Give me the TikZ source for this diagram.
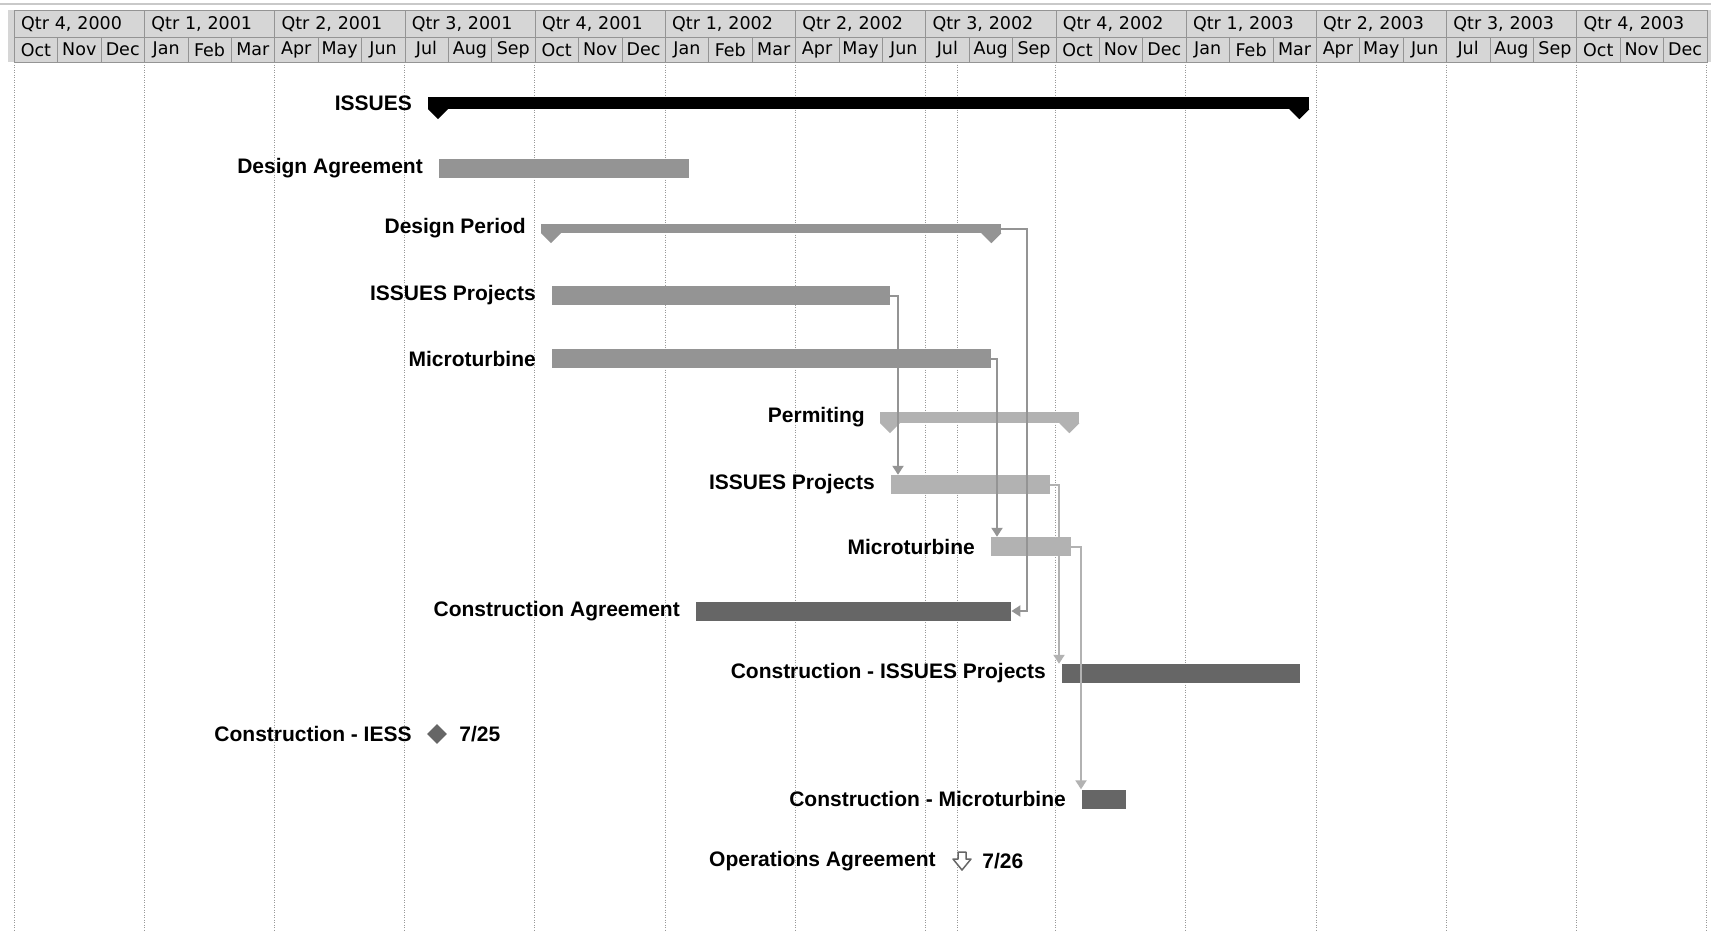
\documentclass[tikz,border=0pt]{standalone}
\usepackage{fontspec}
\setmainfont{Liberation Sans}
\newfontfamily\hdrfont{DejaVu Sans}
\usetikzlibrary{positioning,shapes.geometric,arrows.meta}
\pgfdeclarelayer{background layer}
\pgfsetlayers{background layer,main}
\definecolor{hdrbkg}{rgb}{0.84,0.84,0.84}
\definecolor{hdrline}{rgb}{0.58,0.58,0.58}
\definecolor{gridcol}{rgb}{0.6,0.6,0.6}
\definecolor{midbar}{rgb}{0.58,0.58,0.58}
\definecolor{lightbar}{rgb}{0.70,0.70,0.70}
\definecolor{darkbar}{rgb}{0.40,0.40,0.40}

\begin{document}
\begin{tikzpicture}[x=1pt,y=-1pt]
\tikzstyle{qtrcell}=[draw=hdrline,fill=hdrbkg,anchor=north west,minimum height=27pt,inner xsep=7pt,inner ysep=0pt,text width=116.2pt,align=left,font=\hdrfont\fontsize{17.5}{20}\selectfont]
\tikzstyle{moncell}=[draw=hdrline,fill=hdrbkg,anchor=north west,minimum width=43.4pt,minimum height=25pt,inner sep=0pt,font=\hdrfont\fontsize{17.5}{20}\selectfont]
\tikzstyle{gridline}=[gridcol,line width=1pt,dash pattern=on 1pt off 1.5pt]
\tikzstyle{taskbar}=[anchor=west,minimum height=19pt,inner sep=0pt]
\tikzstyle{sumbar}=[anchor=west,inner sep=0pt]
\tikzstyle{lbl}=[font=\bfseries\fontsize{21}{24}\selectfont,inner sep=2pt]
\tikzstyle{link}=[line width=2pt,-{Triangle[width=11pt,length=9pt]}]
\useasboundingbox (0,0) rectangle (1711,932);
% header
\draw [hdrline!50,line width=2pt] (0,4) -- (1711,4);
\fill [hdrbkg] (8,10) rectangle (1711,62);
\foreach \lab [count=\i from 0] in {{Qtr 4, 2000},{Qtr 1, 2001},{Qtr 2, 2001},{Qtr 3, 2001},{Qtr 4, 2001},{Qtr 1, 2002},{Qtr 2, 2002},{Qtr 3, 2002},{Qtr 4, 2002},{Qtr 1, 2003},{Qtr 2, 2003},{Qtr 3, 2003},{Qtr 4, 2003}}
  \node [qtrcell] (q\i) at (14+130.2*\i,10) {\lab};
\foreach \lab [count=\i from 0] in {Oct,Nov,Dec,Jan,Feb,Mar,Apr,May,Jun,Jul,Aug,Sep,Oct,Nov,Dec,Jan,Feb,Mar,Apr,May,Jun,Jul,Aug,Sep,Oct,Nov,Dec,Jan,Feb,Mar,Apr,May,Jun,Jul,Aug,Sep,Oct,Nov,Dec}
  \node [moncell] (m\i) at (14+43.4*\i,37) {\lab};
% bars
\node [sumbar,fill=black,minimum width=881pt,minimum height=12pt] (iss) at (428,103) {};
\node [taskbar,fill=midbar,minimum width=250pt] (da) at (439,168.5) {};
\node [sumbar,fill=midbar,minimum width=460pt,minimum height=9pt] (dp) at (541,228.5) {};
\node [taskbar,fill=midbar,minimum width=338pt] (ip1) at (552,295.5) {};
\node [taskbar,fill=midbar,minimum width=439pt] (mt1) at (552,358.5) {};
\node [sumbar,fill=lightbar,minimum width=199pt,minimum height=11pt] (pm) at (880,417.5) {};
\node [taskbar,fill=lightbar,minimum width=159pt] (ip2) at (891,484.5) {};
\node [taskbar,fill=lightbar,minimum width=80pt] (mt2) at (991,546.5) {};
\node [taskbar,fill=darkbar,minimum width=315pt] (ca) at (696,611) {};
\node [taskbar,fill=darkbar,minimum width=238pt] (cip) at (1062,673.5) {};
\node [diamond,fill=darkbar,minimum size=20pt,inner sep=0pt] (iess) at (437,734) {};
\node [taskbar,fill=darkbar,minimum width=44pt] (cm) at (1082,799) {};
\node [minimum size=20pt,inner sep=0pt] (ops) at (962,861) {};
\foreach \s/\c in {iss/black,dp/midbar,pm/lightbar} {
  \fill [\c] (\s.south west) -- ++(20,0) -- ++(-10,10) -- cycle;
  \fill [\c] (\s.south east) -- ++(-20,0) -- ++(10,10) -- cycle;
}
\draw [darkbar,fill=white,line width=1.5pt,line join=round] (ops.center) ++(-4,-9) -- ++(8,0) -- ++(0,7) -- ++(5,0) -- ++(-9,11) -- ++(-9,-11) -- ++(5,0) -- cycle;
% labels
\node [lbl,left=14pt of iss] (isslbl) {ISSUES};
\node [lbl,left=14pt of da] (dalbl) {Design Agreement};
\node [lbl,left=13pt of dp] (dplbl) {Design Period};
\node [lbl,left=14pt of ip1] (ip1lbl) {ISSUES Projects};
\node [lbl,left=14pt of mt1] (mt1lbl) {Microturbine};
\node [lbl,left=13pt of pm] (pmlbl) {Permiting};
\node [lbl,left=14pt of ip2] (ip2lbl) {ISSUES Projects};
\node [lbl,left=14pt of mt2] (mt2lbl) {Microturbine};
\node [lbl,left=14pt of ca] (calbl) {Construction Agreement};
\node [lbl,left=14pt of cip] (ciplbl) {Construction - ISSUES Projects};
\node [lbl,left=13pt of iess] (iesslbl) {Construction - IESS};
\node [lbl,right=10pt of iess] (iessdate) {7/25};
\node [lbl,left=14pt of cm] (cmlbl) {Construction - Microturbine};
\node [lbl,left=14pt of ops] (opslbl) {Operations Agreement};
\node [lbl,right=8pt of ops] (opsdate) {7/26};
% links
\draw [link,midbar] (dp.east) -- ++(26,0) |- (ca.east);
\draw [link,midbar] (ip1.east) -| ([xshift=7pt]ip2.north west);
\draw [link,midbar] (mt1.east) -| ([xshift=6pt]mt2.north west);
\draw [link,lightbar] (ip2.east) -| ([xshift=-3pt]cip.north west);
\draw [link,lightbar] (mt2.east) -| ([xshift=-1pt]cm.north west);
\begin{pgfonlayer}{background layer}
\fill [white] (0,0) rectangle (1711,932);
\foreach \i in {0,...,13}
  \draw [gridline] (14+130.2*\i,62) -- (14+130.2*\i,932);
\draw [gridline] (957,62) -- (957,932);
\end{pgfonlayer}
\end{tikzpicture}
\end{document}
